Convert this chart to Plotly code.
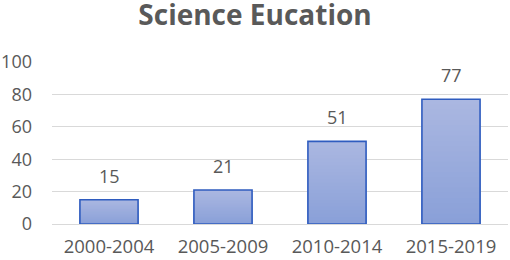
import plotly.graph_objects as go

categories = ["2000-2004", "2005-2009", "2010-2014", "2015-2019"]
values = [15, 21, 51, 77]
y_ticks = [0, 20, 40, 60, 80, 100]
title_text = "Science Eucation"

TOP = (171, 183, 225)
BOT = (137, 160, 216)
N = 24

def mix(f):
    # f=1 top, f=0 bottom
    return "rgb(%d,%d,%d)" % tuple(round(BOT[i] + (TOP[i] - BOT[i]) * f) for i in range(3))

fig = go.Figure()
for k in range(N):
    frac = (N - k) / N
    fig.add_trace(go.Bar(
        x=categories, y=[v * frac for v in values],
        marker=dict(color=mix((N - k - 0.5) / N), line=dict(width=0)),
        hoverinfo="skip", showlegend=False,
    ))
fig.add_trace(go.Bar(
    x=categories, y=values,
    marker=dict(color="rgba(0,0,0,0)", line=dict(color="#2f5cbf", width=1.6)),
    hoverinfo="skip", showlegend=False,
))

for c, v in zip(categories, values):
    fig.add_annotation(x=c, y=v, text=str(v), showarrow=False, yanchor="bottom",
                       yshift=10, font=dict(family="Open Sans", size=18, color="#595959"))

fig.update_layout(
    template="none",
    width=510, height=260,
    margin=dict(l=52, r=2, t=62, b=36, autoexpand=False),
    paper_bgcolor="white", plot_bgcolor="white",
    barmode="overlay", bargap=0.49,
    title=dict(text="<b>" + title_text + "</b>", x=0.5, xanchor="center", xref="container",
               y=1 - 15 / 260, yanchor="middle", yref="container",
               font=dict(family="Open Sans", size=28, color="#595959")),
    font=dict(family="Open Sans", size=18, color="#595959"),
)
fig.update_xaxes(automargin=False, showgrid=False, showline=True, linecolor="#d9d9d9", linewidth=1,
                 ticks="", ticklabelstandoff=6, tickfont=dict(size=18.5, color="#595959"))
fig.update_yaxes(automargin=False, range=[0, 100], tickvals=y_ticks, showgrid=True, gridcolor="#d9d9d9",
                 gridwidth=1, zeroline=False, showline=False, ticks="",
                 ticklabelstandoff=19, tickfont=dict(size=18, color="#595959"))

fig.write_html("out.html", config={"displayModeBar": False},
               post_script="document.body.style.margin='0';")
